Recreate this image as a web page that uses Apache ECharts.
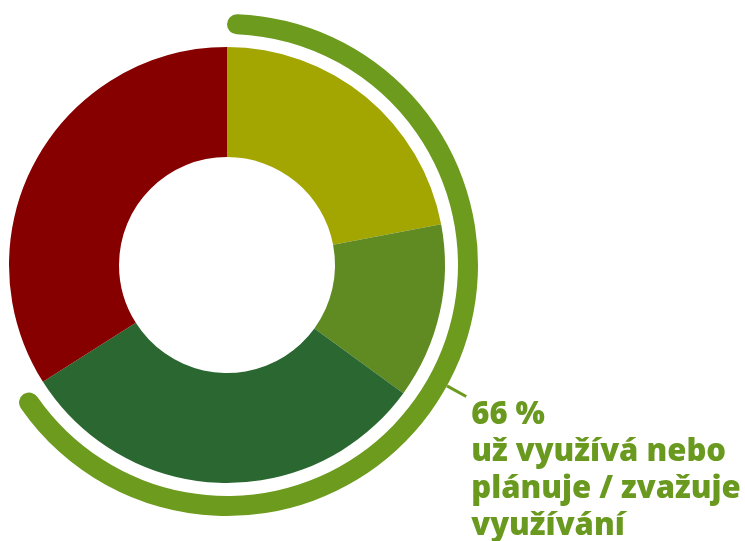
<!DOCTYPE html>
<html>
<head>
<meta charset="utf-8">
<script src="https://cdn.jsdelivr.net/npm/echarts@6/dist/echarts.min.js"></script>
<style>
html,body{margin:0;padding:0;background:#fff;}
#c{width:745px;height:541px;}
</style>
</head>
<body>
<div id="c"></div>
<script>
const categories = ['A', 'B', 'C', 'D'];
const values = [22, 13, 31, 34];
const colors = ['#a3a500', '#5f8b22', '#2b6731', '#860000'];
const summaryValue = 66;
const summaryText = ['66 %', 'už využívá nebo', 'plánuje / zvažuje', 'využívání'];

const chart = echarts.init(document.getElementById('c'), null, {renderer: 'canvas'});
chart.setOption({
  animation: false,
  backgroundColor: '#ffffff',
  series: [
    {
      type: 'pie',
      center: [227, 265],
      radius: [108, 218],
      startAngle: 90,
      clockwise: true,
      silent: true,
      label: {show: false},
      labelLine: {show: false},
      data: categories.map((c, i) => ({name: c, value: values[i], itemStyle: {color: colors[i]}}))
    },
    {
      type: 'pie',
      center: [227, 265],
      radius: [231, 251],
      startAngle: 90,
      clockwise: true,
      silent: true,
      avoidLabelOverlap: false,
      data: [
        {
          name: 'summary', value: summaryValue,
          itemStyle: {color: '#6c9b1d', borderRadius: 10},
          label: {
            show: true,
            position: 'outside',
            formatter: '\n\n\n\n' + summaryText.join('\n'),
            color: '#6a991f',
            fontFamily: 'Open Sans',
            fontWeight: 800,
            fontSize: 31,
            lineHeight: 37,
            align: 'left'
          },
          labelLine: {show: true, length: 22, length2: 0, lineStyle: {color: '#6c9b1d', width: 3}}
        },
        {
          name: 'rest', value: 100 - summaryValue,
          itemStyle: {color: 'rgba(0,0,0,0)'},
          label: {show: false}, labelLine: {show: false}
        }
      ]
    }
  ]
});
</script>
</body>
</html>
